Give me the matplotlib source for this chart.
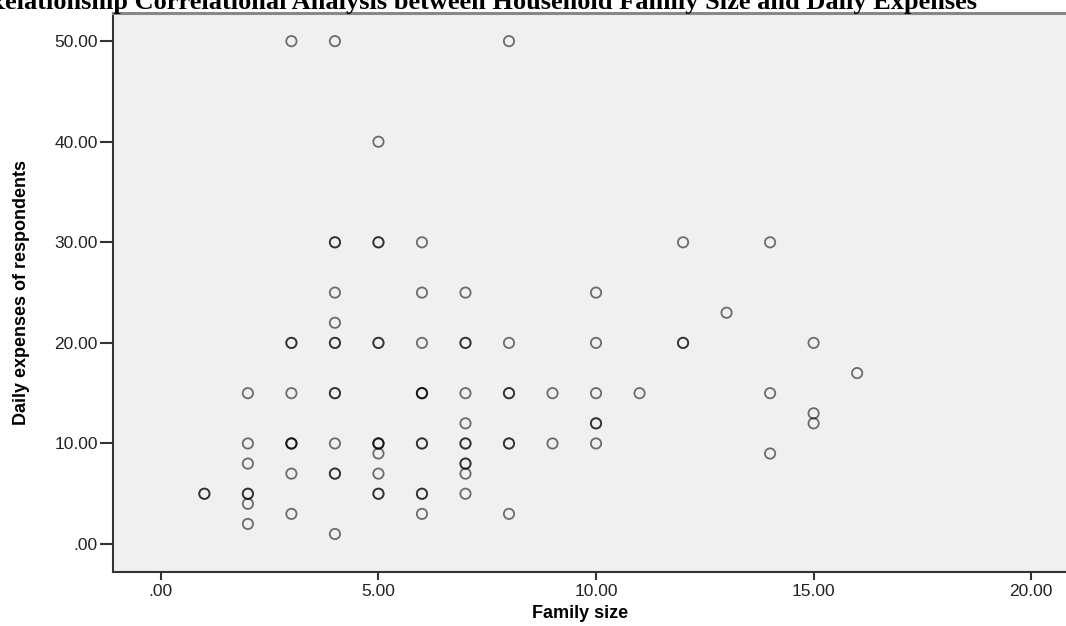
import numpy as np
import matplotlib.pyplot as plt

# family size, daily expense, number of respondents at that point
family_size = [1, 2, 2, 2, 2, 2, 2,
               3, 3, 3, 3, 3, 3,
               4, 4, 4, 4, 4, 4, 4, 4, 4,
               5, 5, 5, 5, 5, 5, 5,
               6, 6, 6, 6, 6, 6, 6,
               7, 7, 7, 7, 7, 7, 7, 7,
               8, 8, 8, 8, 8,
               9, 9,
               10, 10, 10, 10, 10,
               11, 12, 12, 13, 14, 14, 14, 15, 15, 15, 16]
daily_expenses = [5, 15, 10, 8, 5, 4, 2,
                  50, 20, 15, 10, 7, 3,
                  50, 30, 25, 22, 20, 15, 10, 7, 1,
                  40, 30, 20, 10, 9, 7, 5,
                  30, 25, 20, 15, 10, 5, 3,
                  25, 20, 15, 12, 10, 8, 7, 5,
                  50, 20, 15, 10, 3,
                  15, 10,
                  25, 20, 15, 12, 10,
                  15, 30, 20, 23, 30, 15, 9, 20, 13, 12, 17]
counts = [2, 1, 1, 1, 2, 1, 1,
          1, 2, 1, 3, 1, 1,
          1, 2, 1, 1, 2, 2, 1, 2, 1,
          1, 2, 2, 3, 1, 1, 2,
          1, 1, 1, 3, 2, 2, 1,
          1, 2, 1, 1, 2, 2, 1, 1,
          1, 1, 2, 2, 1,
          1, 1,
          1, 1, 1, 2, 1,
          1, 1, 2, 1, 1, 1, 1, 1, 1, 1, 1]

x_ticks = [0, 5, 10, 15, 20]
y_ticks = [0, 10, 20, 30, 40, 50]

title = "Relationship Correlational Analysis between Household Family Size and Daily Expenses"

# repeat overlapping respondents so the circles darken like in the original
xs = np.repeat(family_size, counts)
ys = np.repeat(daily_expenses, counts)

fig = plt.figure(figsize=(10.66, 6.26), dpi=100)
ax = fig.add_axes([113 / 1066, 54.3 / 626, 1 - 113 / 1066, 558.7 / 626])
ax.set_facecolor("#f0f0f0")

ax.scatter(xs, ys, s=55, facecolors="none", edgecolors=(0, 0, 0, 0.55), linewidths=1.3)

ax.set_xlim(-1.10, 20.80)
ax.set_ylim(-2.75, 52.8)

ax.set_xticks(x_ticks)
ax.set_xticklabels(["." + "00" if v == 0 else f"{v:.2f}" for v in x_ticks])
ax.set_yticks(y_ticks)
ax.set_yticklabels(["." + "00" if v == 0 else f"{v:.2f}" for v in y_ticks])

ax.tick_params(axis="x", length=6, width=1.5, color="#333333", pad=3,
               labelsize=12.5, labelcolor="#222222")
ax.tick_params(axis="y", length=9.5, width=1.5, color="#333333", pad=1.5,
               labelsize=12.5, labelcolor="#222222")
for lab in ax.get_xticklabels() + ax.get_yticklabels():
    lab.set_family("Liberation Sans")

ax.spines["right"].set_visible(False)
ax.spines["left"].set_color("#333333")
ax.spines["left"].set_linewidth(1.5)
ax.spines["bottom"].set_color("#333333")
ax.spines["bottom"].set_linewidth(1.5)
ax.spines["top"].set_color("#888888")
ax.spines["top"].set_linewidth(2.2)

fig.text(22 / 1066, 1 - 292 / 626, "Daily expenses of respondents", rotation=90,
         ha="center", va="center", fontsize=13, fontweight="bold",
         family=["Liberation Sans Narrow", "Liberation Sans"])
fig.text(580 / 1066, 1 - 614 / 626, "Family size", ha="center", va="center",
         fontsize=13, fontweight="bold", family="Liberation Sans")
fig.text(977 / 1066, 1 - 9 / 626, title, ha="right", va="baseline",
         fontsize=19, fontweight="bold", family="Liberation Serif")

fig.savefig("out.png", dpi=100)
